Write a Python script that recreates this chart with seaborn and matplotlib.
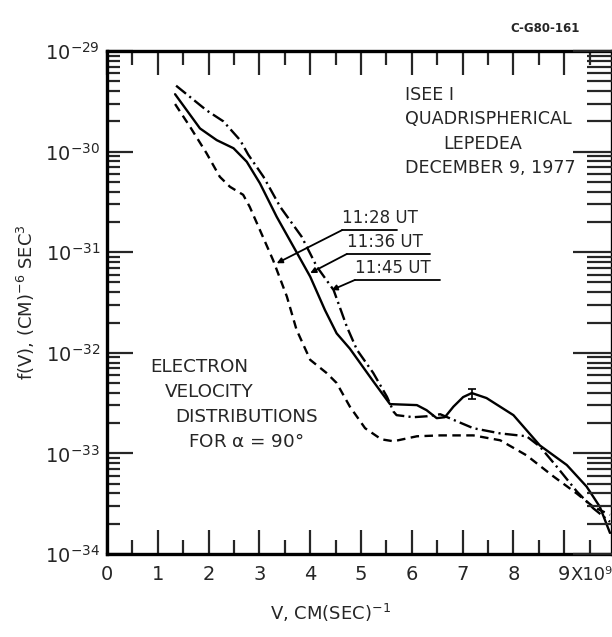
import numpy as np
import pandas as pd
import matplotlib
matplotlib.use("Agg")
import matplotlib.pyplot as plt
import seaborn as sns
from matplotlib.ticker import LogLocator, LogFormatterMathtext, MultipleLocator, NullFormatter, FixedLocator, FixedFormatter

# ---------------- data ----------------
v_1128 = [1.34, 1.63, 1.96, 2.22, 2.42, 2.68, 2.81, 3.01, 3.27, 3.54, 3.73, 4.00, 4.32, 4.52,
          4.78, 5.08, 5.40, 5.64, 6.10, 6.56, 7.21, 7.74, 8.26, 8.79, 9.25, 9.57, 9.90]
f_1128 = [2.97e-30, 1.78e-30, 9.62e-31, 5.62e-31, 4.47e-31, 3.72e-31, 2.82e-31, 1.66e-31, 8.32e-32,
          3.63e-32, 1.70e-32, 8.51e-33, 6.31e-33, 5.01e-33, 2.92e-33, 1.78e-33, 1.38e-33, 1.32e-33,
          1.48e-33, 1.51e-33, 1.51e-33, 1.35e-33, 9.55e-34, 5.89e-34, 3.98e-34, 2.95e-34, 2.45e-34]

v_1136 = [1.34, 1.83, 2.16, 2.49, 2.75, 3.01, 3.34, 3.67, 4.00, 4.29, 4.52, 4.78, 5.24, 5.57,
          6.10, 6.29, 6.49, 6.65, 6.82, 7.01, 7.18, 7.47, 8.00, 8.52, 9.05, 9.44, 9.70, 9.90]
f_1136 = [3.72e-30, 1.70e-30, 1.30e-30, 1.08e-30, 7.94e-31, 4.84e-31, 2.25e-31, 1.135e-31, 5.71e-32,
          2.66e-32, 1.56e-32, 1.10e-32, 5.21e-33, 3.09e-33, 3.02e-33, 2.69e-33, 2.24e-33, 2.29e-33,
          2.92e-33, 3.63e-33, 3.98e-33, 3.55e-33, 2.40e-33, 1.20e-33, 7.67e-34, 4.68e-34, 2.95e-34,
          1.62e-34]

v_1145 = [1.36, 1.96, 2.29, 2.62, 2.78, 3.08, 3.41, 3.83, 4.13, 4.46, 4.72, 4.92, 5.24, 5.51,
          5.64, 5.70, 6.03, 6.30, 6.56, 7.21, 7.74, 8.26, 8.52, 8.85, 9.25, 9.57, 9.90]
f_1145 = [4.52e-30, 2.57e-30, 2.00e-30, 1.30e-30, 9.33e-31, 5.62e-31, 2.82e-31, 1.43e-31, 7.18e-32,
          4.21e-32, 1.82e-32, 1.07e-32, 6.31e-33, 3.66e-33, 2.60e-33, 2.40e-33, 2.29e-33, 2.34e-33,
          2.45e-33, 1.78e-33, 1.58e-33, 1.48e-33, 1.17e-33, 7.41e-34, 4.17e-34, 2.85e-34, 2.09e-34]

times = ["11:28 UT", "11:36 UT", "11:45 UT"]

# error bar on the 11:36 curve
err_v = [7.18]
err_f = [3.95e-33]
err_lo = [3.47e-33]
err_hi = [4.37e-33]

x_ticks = [0, 1, 2, 3, 4, 5, 6, 7, 8, 9]
x_ticklabels = ["0", "1", "2", "3", "4", "5", "6", "7", "8", "9"]
x_suffix = "X10\u2079"

# ---------------- build long-form table ----------------
df = pd.concat([
    pd.DataFrame({"v": v_1128, "f": f_1128, "time": times[0]}),
    pd.DataFrame({"v": v_1136, "f": f_1136, "time": times[1]}),
    pd.DataFrame({"v": v_1145, "f": f_1145, "time": times[2]}),
], ignore_index=True)

# ---------------- figure ----------------
sns.set_style("white")
plt.rcParams["font.family"] = ["DejaVu Sans"]
plt.rcParams["mathtext.default"] = "regular"

W, H = 612, 637
fig = plt.figure(figsize=(W / 100, H / 100), dpi=100)
L, R, T, B = 107, 612, 51, 554
ax = fig.add_axes([L / W, 1 - B / H, (R - L) / W, (B - T) / H])

lw = 1.7
sns.lineplot(data=df, x="v", y="f", style="time", style_order=times,
             dashes={"11:28 UT": (3.6, 2.3), "11:36 UT": "", "11:45 UT": (5.4, 1.8, 0.9, 1.8)},
             color="black", linewidth=lw, sort=False, estimator=None, legend=False, ax=ax)

ax.errorbar(err_v, err_f,
            yerr=[[f - lo for f, lo in zip(err_f, err_lo)], [hi - f for f, hi in zip(err_f, err_hi)]],
            fmt="none", ecolor="black", elinewidth=1.2, capsize=3, capthick=1.2)

ax.set_yscale("log")
ax.set_xlim(0, 9.94)
ax.set_ylim(1e-34, 1e-29)

# ticks
ax.xaxis.set_major_locator(FixedLocator(x_ticks))
ax.xaxis.set_major_formatter(FixedFormatter(x_ticklabels))
ax.xaxis.set_minor_locator(MultipleLocator(0.5))
ax.yaxis.set_major_locator(LogLocator(base=10, numticks=10))
ax.yaxis.set_minor_locator(LogLocator(base=10, subs=np.arange(2, 10), numticks=20))
ax.yaxis.set_major_formatter(LogFormatterMathtext())
ax.yaxis.set_minor_formatter(NullFormatter())

ax.tick_params(axis="x", which="major", direction="in", length=17, width=1.6,
               top=True, bottom=True, labelsize=14, pad=8)
ax.tick_params(axis="x", which="minor", direction="in", length=10, width=1.6, top=True, bottom=True)
ax.tick_params(axis="y", which="major", direction="in", length=19, width=1.6,
               left=True, right=False, labelsize=14, pad=5)
ax.tick_params(axis="y", which="minor", direction="in", length=9, width=1.6, left=True, right=False)

# right-hand ticks (longer in the original)
ax2 = ax.twinx()
ax2.set_yscale("log")
ax2.set_ylim(ax.get_ylim())
ax2.yaxis.set_major_locator(LogLocator(base=10, numticks=10))
ax2.yaxis.set_minor_locator(LogLocator(base=10, subs=np.arange(2, 10), numticks=20))
ax2.yaxis.set_major_formatter(NullFormatter())
ax2.yaxis.set_minor_formatter(NullFormatter())
ax2.tick_params(axis="y", which="major", direction="in", length=28, width=1.6, labelright=False)
ax2.tick_params(axis="y", which="minor", direction="in", length=18, width=1.6, labelright=False)
for sp in ax2.spines.values():
    sp.set_visible(False)

for sp in ax.spines.values():
    sp.set_linewidth(2.4)
    sp.set_color("black")

ax.set_xlabel("V, CM(SEC)$^{-1}$", fontsize=13)
ax.xaxis.set_label_coords((330 - L) / (R - L), -0.095)
ax.set_ylabel("f(V), (CM)$^{-6}$ SEC$^{3}$", fontsize=13, labelpad=6)

# "X10^9" right after the last tick label, on the same baseline
fig.canvas.draw()
last_lab = ax.get_xticklabels()[-1]
ax.annotate(x_suffix, xy=(1, 0), xycoords=last_lab, xytext=(0, 0), textcoords="offset points",
            ha="left", va="bottom", fontsize=13)

# curve labels with underline and leader arrow
annot = [
    # text, underline x0, x1, underline y, target v, target f
    ("11:28 UT", 4.63, 5.70, 1.66e-31, 3.34, 7.76e-32),
    ("11:36 UT", 4.72, 6.36, 9.6e-32, 4.00, 6.2e-32),
    ("11:45 UT", 4.88, 6.56, 5.3e-32, 4.42, 4.2e-32),
]
for txt, x0, x1, yl, tv, tf in annot:
    ax.plot([x0, x1], [yl, yl], color="black", lw=1.3)
    ax.annotate("", xy=(tv, tf), xytext=(x0, yl),
                arrowprops=dict(arrowstyle="-|>", color="black", lw=1.3, mutation_scale=8,
                                shrinkA=0, shrinkB=0))
    ax.annotate(txt, xy=(x0, yl), xytext=(0, 2), textcoords="offset points",
                ha="left", va="bottom", fontsize=12)

def px(xp, yp):
    """pixel position in the figure -> figure fraction"""
    return xp / W, 1 - yp / H

fs = 12.6
fig.text(*px(405, 95), "ISEE I", fontsize=fs, ha="left", va="center")
fig.text(*px(405, 119), "QUADRISPHERICAL", fontsize=fs, ha="left", va="center")
fig.text(*px(483, 144), "LEPEDEA", fontsize=fs, ha="center", va="center")
fig.text(*px(405, 168), "DECEMBER 9, 1977", fontsize=fs, ha="left", va="center")

fs2 = 13.2
fig.text(*px(150, 367), "ELECTRON", fontsize=fs2, ha="left", va="center")
fig.text(*px(165, 392), "VELOCITY", fontsize=fs2, ha="left", va="center")
fig.text(*px(175, 417), "DISTRIBUTIONS", fontsize=fs2, ha="left", va="center")
fig.text(*px(188, 442), "FOR $\\alpha$ = 90°", fontsize=fs2, ha="left", va="center")

fig.text(*px(545, 28), "C-G80-161", fontsize=8.5, fontweight="bold", ha="center", va="center")

fig.savefig("out.png", dpi=100)
